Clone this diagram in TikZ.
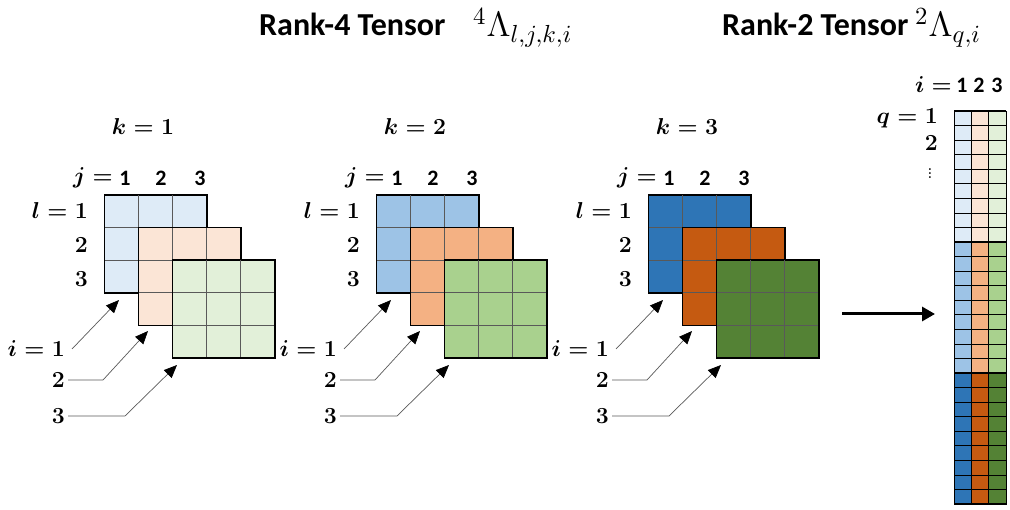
\RequirePackage{fix-cm}
\documentclass[tikz,border=0pt]{standalone}
\usepackage{fontspec}
\newfontfamily\carl{Carlito}
\usetikzlibrary{arrows.meta}
\definecolor{lb}{HTML}{DEEBF7}
\definecolor{lp}{HTML}{FBE5D6}
\definecolor{lg}{HTML}{E2F0D9}
\definecolor{mb}{HTML}{9DC3E6}
\definecolor{mp}{HTML}{F4B183}
\definecolor{mg}{HTML}{A9D18E}
\definecolor{db}{HTML}{2E75B6}
\definecolor{dp}{HTML}{C55A11}
\definecolor{dg}{HTML}{548235}
\definecolor{gin}{HTML}{595959}
\begin{document}
\begin{tikzpicture}[x=1pt,y=-1pt,
  layer/.style={draw=black,line width=1pt,minimum width=102pt,minimum height=97.5pt,anchor=north west,inner sep=0pt},
  inln/.style={draw=gin,line width=0.7pt},
  mlab/.style={font=\fontsize{23}{27}\selectfont\boldmath,inner sep=1pt},
  slab/.style={font=\fontsize{22}{26}\selectfont\carl\bfseries,inner sep=1pt},
  ptr/.style={draw=black!65,line width=0.7pt,-{Triangle[length=13pt,width=11pt,color=black]}},
  title/.style={font=\fontsize{32}{36}\selectfont\carl\bfseries,anchor=base west,inner sep=0pt},
  ttl/.style={font=\fontsize{15}{18}\selectfont,anchor=base west,inner sep=0pt}]
\useasboundingbox (0,0) rectangle (1010,510);

% titles
\node[title] (t4) at (259,36) {Rank-4 Tensor};
\node[ttl] (m4) at (473,37) {\scalebox{2.35}{$^{4}\Lambda_{l,j,k,i}$}};
\node[title] (t2) at (722,36) {Rank-2 Tensor};
\node[ttl] (m2) at (915,37) {\scalebox{2.35}{$^{2}\Lambda_{q,i}$}};

% three k-groups
\foreach \g/\ca/\cb/\cc/\kk in {0/lb/lp/lg/1, 1/mb/mp/mg/2, 2/db/dp/dg/3}{
  \pgfmathsetmacro\xo{104+272*\g}
  \foreach \L/\cl in {0/\ca,1/\cb,2/\cc}{
    \node[layer,fill=\cl] (g\g l\L) at (\xo+34*\L,195+32.5*\L) {};
    \draw[inln,shift={(g\g l\L.north west)}] (34,0)--(34,97.5) (68,0)--(68,97.5) (0,32.5)--(102,32.5) (0,65)--(102,65);
    \draw[line width=1pt] (g\g l\L.north west) rectangle (g\g l\L.south east);
  }
  \node[mlab] (k\g) at (\xo+39,127) {$k=\kk$};
  \node[mlab,anchor=east] (j\g) at (\xo+10,178) {$j=$};
  \node[slab] (ja\g) at (\xo+21,178) {1};
  \node[slab] (jb\g) at (\xo+57,178) {2};
  \node[slab] (jc\g) at (\xo+96,178) {3};
  \node[mlab,anchor=east] (la\g) at (\xo-15,211) {$l=1$};
  \node[mlab,anchor=east] (lb\g) at (\xo-15,245) {$2$};
  \node[mlab,anchor=east] (lc\g) at (\xo-15,279) {$3$};
  \node[mlab,anchor=east] (ia\g) at (\xo-38,349) {$i=1$};
  \node[mlab,anchor=east] (ib\g) at (\xo-38,380) {$2$};
  \node[mlab,anchor=east] (ic\g) at (\xo-38,416) {$3$};
  \coordinate (ea\g) at (\xo+15,300);
  \coordinate (eb\g) at (\xo+44,331);
  \coordinate (ec\g) at (\xo+73,365);
  \draw[ptr] ([xshift=6pt]ia\g.east) -- (ea\g);
  \draw[ptr] ([xshift=2pt]ib\g.east) -- ++(35,0) -- (eb\g);
  \draw[ptr] ([xshift=2pt]ic\g.east) -- ++(57,0) -- (ec\g);
}

% right column
\foreach \s/\ca/\cb/\cc in {0/lb/lp/lg,1/mb/mp/mg,2/db/dp/dg}{
  \foreach \r in {0,...,8}{
    \pgfmathsetmacro\yy{111+(9*\s+\r)*14.555}
    \filldraw[fill=\ca,draw=black,line width=0.7pt] (954,\yy) rectangle ++(17.33,14.555);
    \filldraw[fill=\cb,draw=black,line width=0.7pt] (971.33,\yy) rectangle ++(17.33,14.555);
    \filldraw[fill=\cc,draw=black,line width=0.7pt] (988.67,\yy) rectangle ++(17.33,14.555);
  }
}
\foreach \r in {0,3,...,27}{
  \draw[line width=1.3pt] (954,111+\r*14.555) -- (1006,111+\r*14.555);
}
\node[draw=black,line width=1.3pt,minimum width=52pt,minimum height=393pt,anchor=north west,inner sep=0pt] (col) at (954,111) {};
\draw[line width=1.1pt] (971.33,111) -- (971.33,504) (988.67,111) -- (988.67,504);

\node[mlab,anchor=east] (ci) at (953,85) {$i=$};
\node[slab] (c1) at (962,85) {1};
\node[slab] (c2) at (979,85) {2};
\node[slab] (c3) at (997,85) {3};
\node[mlab,anchor=east] (q1) at (939,118) {$q=1$};
\node[mlab,anchor=east] (q2) at (939,143) {$2$};
\node[mlab] (qd) at (930,171) {$\vdots$};

% big arrow
\coordinate (bs) at (842,314);
\coordinate (be) at (935,314);
\draw[line width=3pt,-{Triangle[length=13pt,width=14pt]}] (bs) -- (be);
\end{tikzpicture}
\end{document}
